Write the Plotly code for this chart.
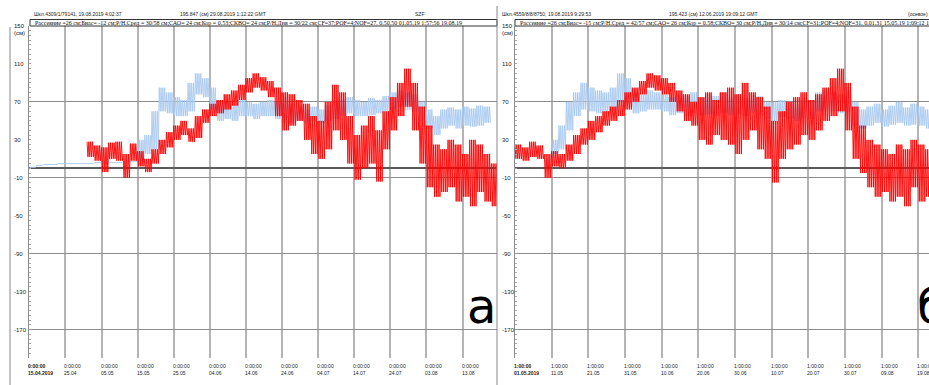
import pandas as pd
import plotly.graph_objects as go

W, H = 929, 385
BIN_DAYS = 2

# ---------------- data (2-day bins: upper / lower envelope of tidal swing, cm) ----------------
left_start = pd.Timestamp("2019-04-15 00:00")
left_red_hi = [None]*8 + [28,24,22,27,28,15,26,18, 10,20,30,38,45,50,42,
                          55,62,68,72,78,82,88,95,100,96,92, 85,80,78,72,68,55,50,70,88,80,
                          55,35,45,55,40, 60,75,90,105,90,65,45, 25,20,30,25,15,30,25,15,5]
left_red_lo = [None]*8 + [12,8,-4,10,8,-10,8,2, -4,5,15,22,30,35,28,
                          32,48,55,58,62,66,72,80,85,82,75, 55,40,45,50,30,15,10,20,40,30,
                          5,-12,0,5,-14, 20,40,55,65,40,5,-20, -30,-25,-20,-35,-30,-40,-25,-35,-40]
left_blue_hi = [1,3,4,4,5,5,5,5,5,6,6,6,6,7,7,
                30,35,60,85,80,75,72,90,100,95,85,70,
                70,68,72,70,68,70,72,70, 75, 68,65,62,65,62,66,
                70,72,75,72,70,74,72, 76,80,82,80,78,70, 62,55,
                62,64,62,65,63,66,65, None]
left_blue_lo = [1,3,4,4,5,5,5,5,5,6,6,6,6,7,7,
                8,15,20,60,58,55,55,60,78,75,60,50,
                52,50,55,55,52,55,55,52, 48, 48,50,48,50,48,50,
                52,55,58,55,55,56,58, 60,62,65,62,60,50, 42,35,
                42,45,42,45,44,45,48, None]

right_start = pd.Timestamp("2019-05-01 01:00")
right_red_hi = [25,22,28,24,15,18,15,25,35,42,50,55,60,65,72,80,85,92,100,98,
                95,90,82,78,70,75,80,72,80,85,78,90,80,75,65,50,60,70,75,80,
                72,78,85,95,105,90,65,45,30,25,20,15,25,20,30,25,20]
right_red_lo = [10,8,12,10,-10,2,0,8,15,25,30,38,45,50,55,62,70,78,85,82,
                78,70,60,50,45,30,25,35,30,25,15,30,40,20,10,-15,10,20,25,35,
                30,40,50,55,60,40,10,-5,-20,-30,-25,-35,-30,-40,-20,-35,-30]
right_blue_hi = [None]*5 + [30,45,70,80,90,85,82,80,85,100,95,80,78,82,80,78,
                            75,78,76,80,74,78,76,80,75,78,74,77,76,
                            70,70,72,70,68,72,70, 80,82,80,78,82, 70,62,
                            65,68,62,66,70,64,68,65,62]
right_blue_lo = [None]*5 + [15,20,40,55,62,60,58,58,60,70,68,58,60,62,62,60,
                            56,58,55,58,56,57,55,58,56,57,55,58,56,
                            52,50,54,52,50,53,52, 60,62,60,58,60, 45,42,
                            45,48,44,46,48,45,46,45,42]

y_labels = [150, 110, 70, 30, -10, -50, -90, -130, -170]
left_ticks = ["2019-04-15", "2019-04-25", "2019-05-05", "2019-05-15", "2019-05-25", "2019-06-04",
              "2019-06-14", "2019-06-24", "2019-07-04", "2019-07-14", "2019-07-24", "2019-08-03", "2019-08-13"]
left_tick_text = ["15.04.2019", "25.04", "05.05", "15.05", "25.05", "04.06", "14.06", "24.06",
                  "04.07", "14.07", "24.07", "03.08", "13.08"]
right_ticks = ["2019-05-01 01:00", "2019-05-11 01:00", "2019-05-21 01:00", "2019-05-31 01:00",
               "2019-06-10 01:00", "2019-06-20 01:00", "2019-06-30 01:00", "2019-07-10 01:00",
               "2019-07-20 01:00", "2019-07-30 01:00", "2019-08-09 01:00", "2019-08-19 01:00"]
right_tick_text = ["01.05.2019", "11.05", "21.05", "31.05", "10.06", "20.06", "30.06",
                   "10.07", "20.07", "30.07", "09.08", "19.08"]

left_header = ("Рассеяние =26 см;Биас= -12 см;Р/Н.Сред = 30/58 см;САО= 24 см;Кор = 0.53;СКВО= 24 см;"
               "Р/Н.Днв = 30/22 см;CF=37;POF=4;NOF=27. 0.50.50 01.05.19 1:57:56 19.08.19")
right_header = ("Рассеяние =26 см;Биас= -15 см;Р/Н.Сред = 42/57 см;САО= 26 см;Кор = 0.58;СКВО= 30 см;"
                "Р/Н.Днв = 30/14 см;CF=31;POF=4;NOF=31. 0.01.31 15.05.19 1:09:12 19.08.19")

# ---------------- helpers ----------------
def px(x):
    return x / W

def py(y):
    return 1 - y / H

def tidal(start, hi, lo):
    xs, ys = [], []
    for i, (h, l) in enumerate(zip(hi, lo)):
        if h is None:
            xs.append(start + pd.Timedelta(days=i * BIN_DAYS))
            ys.append(None)
            continue
        for k in range(8):
            xs.append(start + pd.Timedelta(hours=(i * BIN_DAYS * 24) + k * 6))
            ys.append(h if k % 2 == 0 else l)
    return xs, ys

RED = "#ff0000"
BLUE = "#a9caef"

fig = go.Figure()
for start, bh, bl, rh, rl, xa, ya in [
    (left_start, left_blue_hi, left_blue_lo, left_red_hi, left_red_lo, "x", "y"),
    (right_start, right_blue_hi, right_blue_lo, right_red_hi, right_red_lo, "x2", "y2"),
]:
    bx, by = tidal(start, bh, bl)
    fig.add_trace(go.Scatter(x=bx, y=by, mode="lines", line=dict(color=BLUE, width=0.9),
                             connectgaps=False, xaxis=xa, yaxis=ya, hoverinfo="skip"))
    rx, ry = tidal(start, rh, rl)
    fig.add_trace(go.Scatter(x=rx, y=ry, mode="lines", line=dict(color=RED, width=0.9),
                             connectgaps=False, xaxis=xa, yaxis=ya, hoverinfo="skip"))

Y0, Y1 = 26, 358   # plot top / bottom pixels
ydom = [py(Y1), py(Y0)]
yax = dict(range=[-200, 150], domain=ydom, showgrid=True, gridcolor="#8c8c8c", gridwidth=1,
           tick0=-10, dtick=80, showticklabels=False, ticks="inside", ticklen=3, tickcolor="#999",
           zeroline=True, zerolinecolor="#5a5a5a", zerolinewidth=2,
           showline=True, linecolor="#8c8c8c", linewidth=1,
           minor=dict(dtick=5, ticks="inside", ticklen=2, tickcolor="#aaa", showgrid=False))

lx0, lx1 = 29.3, 497
rx0, rx1 = 515, 929
l_end = left_start + pd.Timedelta(days=(lx1 - lx0) / 3.61)
r_end = right_start + pd.Timedelta(days=(rx1 - rx0) / 3.667)

xax_common = dict(type="date", showgrid=True, gridcolor="#b4b4b4", gridwidth=2,
                  showticklabels=False, ticks="", showline=False, zeroline=False)

fig.update_layout(
    width=W, height=H, margin=dict(l=0, r=0, t=0, b=0),
    paper_bgcolor="white", plot_bgcolor="white", showlegend=False,
    xaxis=dict(domain=[px(lx0), px(lx1)], range=[left_start, l_end], tickmode="array",
               tickvals=left_ticks, anchor="y", **xax_common),
    xaxis2=dict(domain=[px(rx0), px(rx1)], range=[right_start, r_end], tickmode="array",
                tickvals=right_ticks, anchor="y2", **xax_common),
    yaxis=dict(anchor="x", **yax),
    yaxis2=dict(anchor="x2", **yax),
)

ann = []
small = dict(family="Liberation Sans, Arial, sans-serif", size=5, color="#222")
# y labels
for xl, yref in [(12, "y"), (500, "y2")]:
    for v in y_labels:
        ann.append(dict(x=px(xl), xref="paper", y=v, yref=yref, text=str(v), showarrow=False,
                        xanchor="left", yanchor="middle",
                        font=dict(family="Liberation Sans, Arial", size=6, color="#222")))
    ann.append(dict(x=px(xl), xref="paper", y=py(33), yref="paper", text="(см)", showarrow=False,
                    xanchor="left", yanchor="middle",
                    font=dict(family="Liberation Sans, Arial", size=6, color="#222")))
# x labels
for ticks, texts, xref, tm in [(left_ticks, left_tick_text, "x", "0:00:00"),
                               (right_ticks, right_tick_text, "x2", "1:00:00")]:
    for i, (t, lab) in enumerate(zip(ticks, texts)):
        txt = f"{tm}<br>{lab}"
        if i == 0:
            txt = f"<b>{tm}<br>{lab}</b>"
        ann.append(dict(x=t, xref=xref, y=py(361), yref="paper", text=txt, showarrow=False,
                        xanchor="left", yanchor="top", xshift=-3, align="left", font=small))
# header lines
top = [(32, "Шкл.4309/1/79141, 19.08.2019 4:02:37"),
       (178, "195.847 (см) 29.08.2019 1:12:22 GMT"),
       (413, "SZF"),
       (500, "Шкл.4559/8/8/8750, 19.08.2019 9:29:53"),
       (667, "195.423 (см) 12.06.2019 19:09:12 GMT"),
       (906, "(осевое)")]
for xx, tt in top:
    ann.append(dict(x=px(xx), xref="paper", y=py(14), yref="paper", text=tt, showarrow=False,
                    xanchor="left", yanchor="middle", font=small))
serif = dict(family="Liberation Serif, Times New Roman, serif", size=6, color="#111")
ann.append(dict(x=px(33), xref="paper", y=py(23), yref="paper", text=left_header, showarrow=False,
                xanchor="left", yanchor="middle", font=serif))
ann.append(dict(x=px(518), xref="paper", y=py(23), yref="paper", text=right_header, showarrow=False,
                xanchor="left", yanchor="middle", font=serif))
# panel letters
ann.append(dict(x=px(465), xref="paper", y=py(306), yref="paper", text="a", showarrow=False,
                xanchor="left", yanchor="middle",
                font=dict(family="DejaVu Sans", size=48, color="#000")))
ann.append(dict(x=px(915), xref="paper", y=py(306), yref="paper", text="б", showarrow=False,
                xanchor="left", yanchor="middle",
                font=dict(family="DejaVu Sans", size=48, color="#000")))
fig.update_layout(annotations=ann)

shapes = [
    dict(type="rect", xref="paper", yref="paper", x0=px(30), x1=px(497), y0=py(26), y1=py(19.5),
         line=dict(color="#333", width=1), fillcolor="rgba(0,0,0,0)"),
    dict(type="rect", xref="paper", yref="paper", x0=px(515), x1=px(940), y0=py(26), y1=py(19.5),
         line=dict(color="#333", width=1), fillcolor="rgba(0,0,0,0)"),
    dict(type="line", xref="paper", yref="paper", x0=px(497), x1=px(497), y0=py(6), y1=0,
         line=dict(color="#888", width=1)),
    dict(type="line", xref="paper", yref="paper", x0=px(10), x1=px(10), y0=py(27), y1=0,
         line=dict(color="#888", width=1)),
]
fig.update_layout(shapes=shapes)

fig.write_html("out.html")
